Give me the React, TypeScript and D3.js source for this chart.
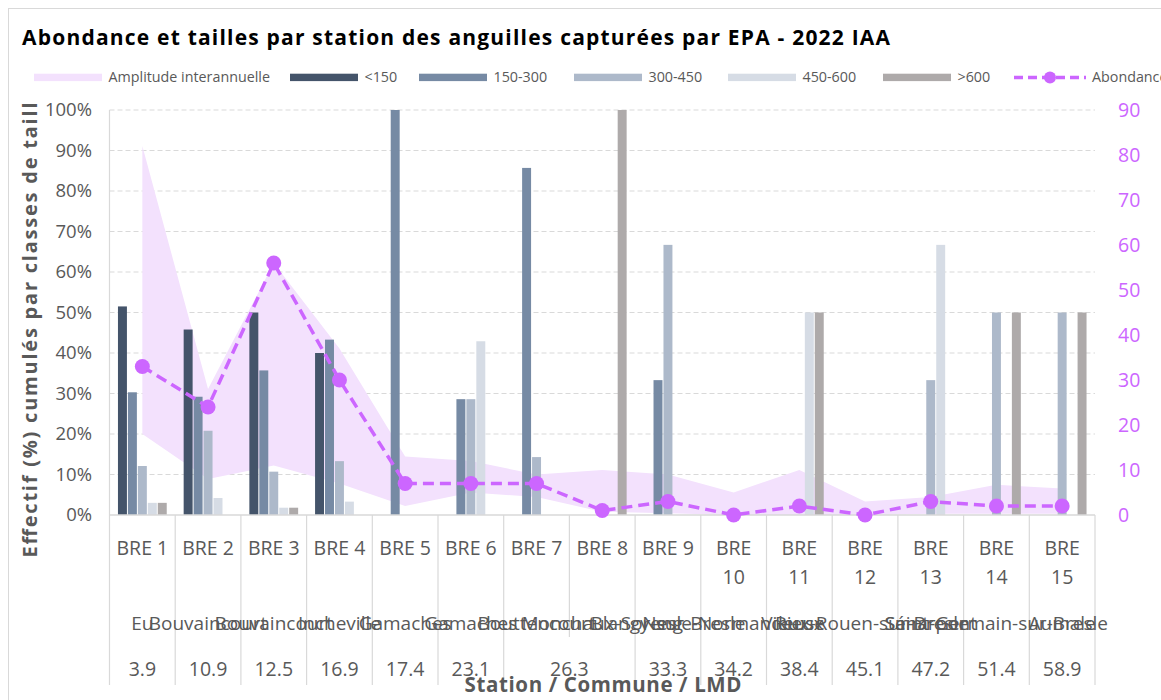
import React from 'react';
import * as d3 from 'd3';

const stations = ['BRE 1', 'BRE 2', 'BRE 3', 'BRE 4', 'BRE 5', 'BRE 6', 'BRE 7', 'BRE 8', 'BRE 9', 'BRE 10', 'BRE 11', 'BRE 12', 'BRE 13', 'BRE 14', 'BRE 15'];
const communes = ['Eu', 'Bouvaincourt', 'Bouvaincourt', 'Incheville', 'Gamaches', 'Gamaches', 'Bouttencourt', 'Monchaux-Soreng', 'Blangy-sur-Bresle', 'Nesle-Normandeuse', 'Rieux', 'Vieux-Rouen-sur-Bresle', 'Sénarpont', 'Saint-Germain-sur-Bresle', 'Aumale'];
const lmd = ['3.9', '10.9', '12.5', '16.9', '17.4', '23.1', '26.3', '26.3', '33.3', '34.2', '38.4', '45.1', '47.2', '51.4', '58.9'];

const sizeClasses = ['<150', '150-300', '300-450', '450-600', '>600'];
const lt150 = [51.5, 45.8, 50.0, 40.0, 0, 0, 0, 0, 0, 0, 0, 0, 0, 0, 0];
const c150_300 = [30.3, 29.2, 35.7, 43.3, 100, 28.6, 85.7, 0, 33.3, 0, 0, 0, 0, 0, 0];
const c300_450 = [12.1, 20.8, 10.7, 13.3, 0, 28.6, 14.3, 0, 66.7, 0, 0, 0, 33.3, 50, 50];
const c450_600 = [3.0, 4.2, 1.8, 3.3, 0, 42.9, 0, 0, 0, 0, 50, 0, 66.7, 0, 0];
const gt600 = [3.0, 0, 1.8, 0, 0, 0, 0, 100, 0, 0, 50, 0, 0, 50, 50];

const abondance = [33, 24, 56, 30, 7, 7, 7, 1, 3, 0, 2, 0, 3, 2, 2];
const amplitudeHaut = [82, 28, 56, 37, 13, 12, 9, 10, 9, 5, 10, 3, 4, 6.7, 5.9];
const amplitudeBas = [18, 8, 11, 7, 2, 5, 4, 0.7, 0.4, 0, 0, 0, 0.3, 0.3, 0.3];

const leftTicks = [0, 10, 20, 30, 40, 50, 60, 70, 80, 90, 100];
const rightTicks = [0, 10, 20, 30, 40, 50, 60, 70, 80, 90];

const colors = ['#44546a', '#768aa4', '#adb9ca', '#d6dce5', '#aeaaaa'];
const violet = '#cc66ff';
const pink = '#f3e1fd';
const grey = '#595959';
const font = "'Open Sans', sans-serif";

export default function App() {
  const W = 1161, H = 700;
  const left = 109.5, right = 1095, top = 110, bottom = 515;
  const series = [lt150, c150_300, c300_450, c450_600, gt600];

  const x = d3.scaleBand().domain(stations).range([left, right]);
  const xs = d3.scaleBand().domain(sizeClasses).range([0, x.bandwidth()]).paddingInner(0.1).paddingOuter(0.85);
  const yL = d3.scaleLinear().domain([0, 100]).range([bottom, top]);
  const yR = d3.scaleLinear().domain([0, 90]).range([bottom, top]);
  const cx = (i: number) => (x(stations[i]) as number) + x.bandwidth() / 2;

  const area = d3.area<number>()
    .x((_, i) => cx(i))
    .y0((_, i) => yR(amplitudeBas[i]))
    .y1(d => yR(d));
  const line = d3.line<number>().x((_, i) => cx(i)).y(d => yR(d));

  // LMD groups: consecutive equal values are merged
  const lmdGroups: { v: string; a: number; b: number }[] = [];
  lmd.forEach((v, i) => {
    const last = lmdGroups[lmdGroups.length - 1];
    if (last && last.v === v) last.b = i;
    else lmdGroups.push({ v, a: i, b: i });
  });

  const legendItems = [
    { x: 34, label: 'Amplitude interannuelle', type: 'area', color: pink },
    { x: 290, label: '<150', type: 'bar', color: colors[0] },
    { x: 419, label: '150-300', type: 'bar', color: colors[1] },
    { x: 574, label: '300-450', type: 'bar', color: colors[2] },
    { x: 728, label: '450-600', type: 'bar', color: colors[3] },
    { x: 883, label: '>600', type: 'bar', color: colors[4] },
    { x: 1014, label: 'Abondance', type: 'line', color: violet },
  ];
  const lw = 68, ly = 77.4;

  return (
    <svg width={W} height={H} style={{ position: 'absolute', left: 0, top: 0, background: '#fff' }} fontFamily={font}>
      <rect x={8.5} y={8.5} width={W} height={H} fill="#fff" stroke="#d9d9d9" />
      <text x={22} y={45} fontSize={21} fontWeight="bold" fill="#000" textLength={868}>
        Abondance et tailles par station des anguilles capturées par EPA - 2022 IAA
      </text>

      {/* legend */}
      {legendItems.map(d => (
        <g key={d.label}>
          {d.type === 'line' ? (
            <g>
              <line x1={d.x} x2={d.x + lw + 4} y1={ly} y2={ly} stroke={d.color} strokeWidth={3.5} strokeDasharray="9,5" />
              <circle cx={d.x + (lw + 4) / 2} cy={ly} r={6} fill={d.color} />
            </g>
          ) : (
            <rect x={d.x} y={ly - 3.7} width={lw} height={7.4} fill={d.color} />
          )}
          <text x={d.x + lw + (d.type === 'line' ? 10 : 6.5)} y={ly} dy="0.35em" fontSize={14.3} fill={grey}>{d.label}</text>
        </g>
      ))}

      {/* gridlines */}
      {leftTicks.filter(t => t > 0).map(t => (
        <line key={t} x1={left} x2={right} y1={yL(t)} y2={yL(t)} stroke="#d9d9d9" strokeDasharray="5,3" />
      ))}

      <path d={area(amplitudeHaut) as string} fill={pink} />

      {series.map((s, k) => (
        <g key={sizeClasses[k]} fill={colors[k]}>
          {s.map((v, i) => v > 0 ? (
            <rect key={i}
              x={(x(stations[i]) as number) + (xs(sizeClasses[k]) as number)}
              y={yL(v)} width={xs.bandwidth()} height={bottom - yL(v)} />
          ) : null)}
        </g>
      ))}

      {/* axes lines and category separators */}
      <line x1={left} x2={left} y1={top} y2={685} stroke="#d9d9d9" strokeWidth={1.2} />
      <line x1={left} x2={right} y1={bottom} y2={bottom} stroke="#d9d9d9" strokeWidth={1.5} />
      {stations.map((s, i) => {
        const bx = (x(s) as number) + x.bandwidth();
        const merged = i < stations.length - 1 && lmd[i] === lmd[i + 1];
        return <line key={s} x1={bx} x2={bx} y1={bottom} y2={merged ? 637 : 685} stroke="#d9d9d9" strokeWidth={1.2} />;
      })}

      <path d={line(abondance) as string} fill="none" stroke={violet} strokeWidth={3.5} strokeDasharray="11,6" />
      {abondance.map((v, i) => (
        <circle key={i} cx={cx(i)} cy={yR(v)} r={7.5} fill={violet} />
      ))}

      {/* left ticks */}
      {leftTicks.map(t => (
        <text key={t} x={92} y={yL(t)} dy="0.35em" textAnchor="end" fontSize={18.5} fill={grey}>{t}%</text>
      ))}
      {/* right ticks */}
      {rightTicks.map(t => (
        <text key={t} x={1118} y={yR(t)} dy="0.35em" fontSize={19.5} fill={violet}>{t}</text>
      ))}

      {/* category labels */}
      {stations.map((s, i) => {
        const parts = i >= 9 ? s.split(' ') : [s];
        return (
          <text key={s} x={cx(i)} textAnchor="middle" fontSize={19.5} fill={grey}>
            {parts.map((p, j) => <tspan key={j} x={cx(i)} y={555 + j * 29}>{p}</tspan>)}
          </text>
        );
      })}
      {communes.map((c, i) => (
        <text key={i} x={cx(i)} y={630} textAnchor="middle" fontSize={19} fill={grey}>{c}</text>
      ))}
      {lmdGroups.map(g => (
        <text key={g.v} x={(cx(g.a) + cx(g.b)) / 2} y={676} textAnchor="middle" fontSize={19.5} fill={grey}>{g.v}</text>
      ))}

      {/* axis titles */}
      <text x={603} y={692} textAnchor="middle" fontSize={20.5} fontWeight="bold" fill={grey} textLength={277}>
        Station / Commune / LMD
      </text>
      <text transform="translate(37,330) rotate(-90)" textAnchor="middle" fontSize={20} fontWeight="bold" fill={grey} textLength={455}>
        Effectif (%) cumulés par classes de taill
      </text>
    </svg>
  );
}
